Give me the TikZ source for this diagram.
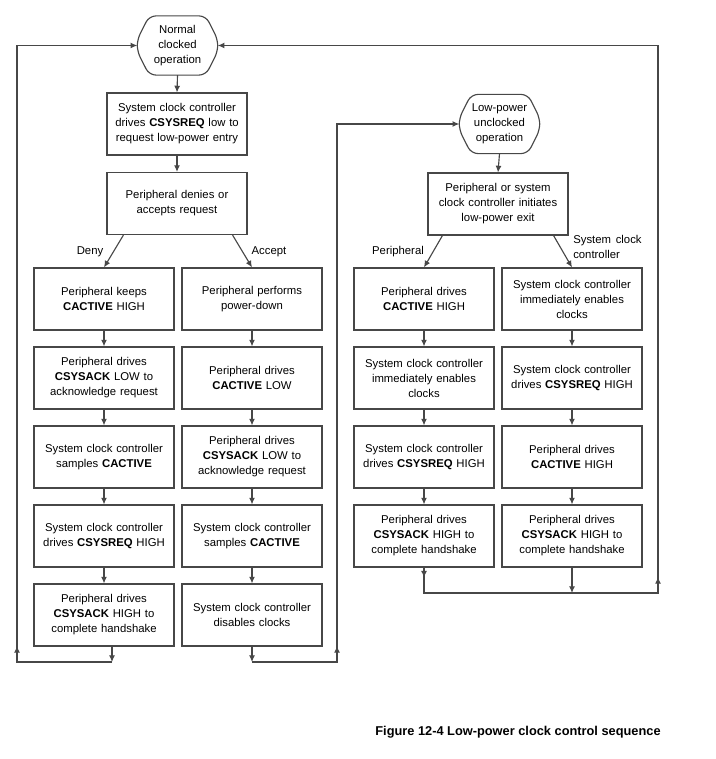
\documentclass[tikz,border=0pt]{standalone}
\usepackage{fontspec}
\setmainfont{Liberation Sans}
\usetikzlibrary{calc,arrows.meta}
\protected\def\widespaces{\spaceskip=0.42em plus 0.1em\relax}
\newcommand{\termoutline}[1]{%
  \draw[edge,rounded corners=5pt] ($(#1.north west)+(12,0)$) -- ($(#1.north east)+(-12,0)$)
    -- ($(#1.east)+(0,-6)$) -- ($(#1.east)+(0,6)$) -- ($(#1.south east)+(-12,0)$)
    -- ($(#1.south west)+(12,0)$)
    -- ($(#1.west)+(0,6)$) -- ($(#1.west)+(0,-6)$) -- cycle;}
\begin{document}
\begin{tikzpicture}[x=0.75pt,y=-0.75pt,
  edge/.style={draw=black!72,line width=0.85pt},
  txt/.style={font=\fontsize{8.5}{11.25}\selectfont\widespaces,align=center,inner sep=0pt},
  stepbox/.style={edge,txt,minimum width=105pt,minimum height=46.5pt,text width=104pt},
  term/.style={txt,minimum width=60pt,minimum height=44pt,text width=58pt},
  arr/.style={edge,-{Latex[length=5pt,width=4.5pt]}},
  lbl/.style={txt}]
\useasboundingbox (0,0) rectangle (715,759);

% top section
\node[term] (N) at (177.5,45.5) {Normal\\clocked\\operation};
\termoutline{N}
\node[stepbox] (B1) at (177,124) {System clock controller\\drives \textbf{CSYSREQ} low to\\request low-power entry};
\node[stepbox] (B2) at (177,203.5) {Peripheral denies or\\accepts request};

% left column (Deny)
\node[stepbox] (L1) at (104,299) {Peripheral keeps\\\textbf{CACTIVE} HIGH};
\node[stepbox] (L2) at (104,378) {Peripheral drives\\\textbf{CSYSACK} LOW to\\acknowledge request};
\node[stepbox] (L3) at (104,457) {System clock controller\\samples \textbf{CACTIVE}};
\node[stepbox] (L4) at (104,536) {System clock controller\\drives \textbf{CSYSREQ} HIGH};
\node[stepbox] (L5) at (104,615) {Peripheral drives\\\textbf{CSYSACK} HIGH to\\complete handshake};

% right column (Accept)
\node[stepbox] (R1) at (252,299) {Peripheral performs\\power-down};
\node[stepbox] (R2) at (252,378) {Peripheral drives\\\textbf{CACTIVE} LOW};
\node[stepbox] (R3) at (252,457) {Peripheral drives\\\textbf{CSYSACK} LOW to\\acknowledge request};
\node[stepbox] (R4) at (252,536) {System clock controller\\samples \textbf{CACTIVE}};
\node[stepbox] (R5) at (252,615) {System clock controller\\disables clocks};

% low-power section
\node[term] (Low) at (499.5,124) {Low-power\\unclocked\\operation};
\termoutline{Low}
\node[stepbox] (P) at (498,204) {Peripheral or system\\clock controller initiates\\low-power exit};

\node[stepbox] (RL1) at (424,299) {Peripheral drives\\\textbf{CACTIVE} HIGH};
\node[stepbox] (RL2) at (424,378) {System clock controller\\immediately enables\\clocks};
\node[stepbox] (RL3) at (424,457) {System clock controller\\drives \textbf{CSYSREQ} HIGH};
\node[stepbox] (RL4) at (424,536) {Peripheral drives\\\textbf{CSYSACK} HIGH to\\complete handshake};

\node[stepbox] (RR1) at (572,299) {System clock controller\\immediately enables\\clocks};
\node[stepbox] (RR2) at (572,378) {System clock controller\\drives \textbf{CSYSREQ} HIGH};
\node[stepbox] (RR3) at (572,457) {Peripheral drives\\\textbf{CACTIVE} HIGH};
\node[stepbox] (RR4) at (572,536) {Peripheral drives\\\textbf{CSYSACK} HIGH to\\complete handshake};

% labels
\node[lbl] (lDeny) at (90,252) {Deny};
\node[lbl] (lAccept) at (269,252) {Accept};
\node[lbl] (lPer) at (398,252) {Peripheral};
\node[lbl,anchor=west,align=left] (lSys) at (573,246.5) {System clock\\controller};

% caption
\node[font=\fontsize{9.6}{11}\selectfont\bfseries,inner sep=0pt] (cap) at (518,732) {Figure 12-4 Low-power clock control sequence};

% coordinates for loops
\coordinate (jL) at (112,662);
\coordinate (cL) at (17,662);
\coordinate (cM) at (337,662);
\coordinate (cR) at (658,593);

% top arrows
\draw[arr] (N.south) -- (B1.north);
\draw[arr] (B1.south) -- (B2.north);
\draw[arr] ($(B2.south west)+(17,0)$) -- (L1.north);
\draw[arr] ($(B2.south east)+(-15,0)$) -- (R1.north);

\foreach \a/\b in {L1/L2,L2/L3,L3/L4,L4/L5,R1/R2,R2/R3,R3/R4,R4/R5,RL1/RL2,RL2/RL3,RL3/RL4,RR1/RR2,RR2/RR3,RR3/RR4}
  \draw[arr] (\a.south) -- (\b.north);

\draw[arr] (Low.south) -- (P.north);
\draw[arr] ($(P.south west)+(15,0)$) -- (RL1.north);
\draw[arr] ($(P.south east)+(-15,0)$) -- (RR1.north);

% left loop back to Normal
\draw[arr] (L5.south -| jL) -- (jL);
\draw[arr] (jL) -- (cL) -- (cL |- N.west) -- (N.west);
\draw[arr] (cL) -- ++(0,-16);

% middle loop to Low-power
\draw[arr] (R5.south) -- (R5.south |- cM);
\draw[arr] (R5.south |- cM) -- (cM) -- (cM |- Low.west) -- (Low.west);
\draw[arr] (cM) -- ++(0,-16);

% right loop back to Normal
\draw[arr] (RL4.south) -- ++(0,10);
\draw[arr] (RL4.south) -- (RL4.south |- cR) -- (cR) -- (cR |- N.east) -- (N.east);
\draw[arr] (RR4.south) -- (RR4.south |- cR);
\draw[arr] (cR) -- ++(0,-16);
\end{tikzpicture}
\end{document}
